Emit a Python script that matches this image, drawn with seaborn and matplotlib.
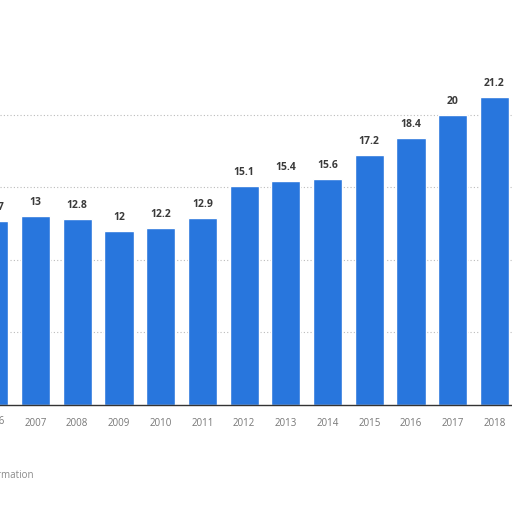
import numpy as np
import matplotlib
matplotlib.use("Agg")
import matplotlib.pyplot as plt
import seaborn as sns
import pandas as pd

years = ['2006', '2007', '2008', '2009', '2010', '2011', '2012',
         '2013', '2014', '2015', '2016', '2017', '2018']
values = [12.7, 13, 12.8, 12, 12.2, 12.9, 15.1, 15.4, 15.6, 17.2, 18.4, 20, 21.2]
labels = ['12.7', '13', '12.8', '12', '12.2', '12.9', '15.1', '15.4',
          '15.6', '17.2', '18.4', '20', '21.2']

df = pd.DataFrame({'year': years, 'value': values})

sns.set_style('white')
plt.rcParams['font.family'] = ['Open Sans', 'DejaVu Sans']

fig = plt.figure(figsize=(5.12, 5.12), dpi=100)
ax = fig.add_axes([0, 0.209, 1, 0.791])
sns.barplot(data=df, x='year', y='value', color='#2876dd', saturation=1,
            width=0.7, ax=ax)

for i, (v, t) in enumerate(zip(values, labels)):
    ax.text(i, v + 0.55, t, ha='center', va='bottom', fontsize=7.5,
            fontweight='bold', color='#3a3a3a')

ax.set_xlim(0.149, 12.42)
ax.set_ylim(0, 27.9)
ax.set_yticks([5, 10, 15, 20])
ax.yaxis.grid(True, linestyle=(0, (1, 2)), color='#bbbbbb', linewidth=0.8)
ax.set_axisbelow(True)
ax.tick_params(axis='y', left=False, labelleft=False)
ax.tick_params(axis='x', bottom=False, labelsize=7, labelcolor='#777777', pad=6)
ax.set_xlabel('')
ax.set_ylabel('')
for s in ['top', 'right', 'left']:
    ax.spines[s].set_visible(False)
ax.spines['bottom'].set_color('#333333')
ax.spines['bottom'].set_linewidth(1)

# first year label sits partly off the left edge
ax.text(0, -0.75, years[0], ha='center', va='top', fontsize=7,
        color='#777777', transform=ax.transData, clip_on=False)

fig.text(-0.137, 0.066, 'Additional Information', fontsize=7, color='#8a8a8a')

fig.savefig('out.png', dpi=100)
